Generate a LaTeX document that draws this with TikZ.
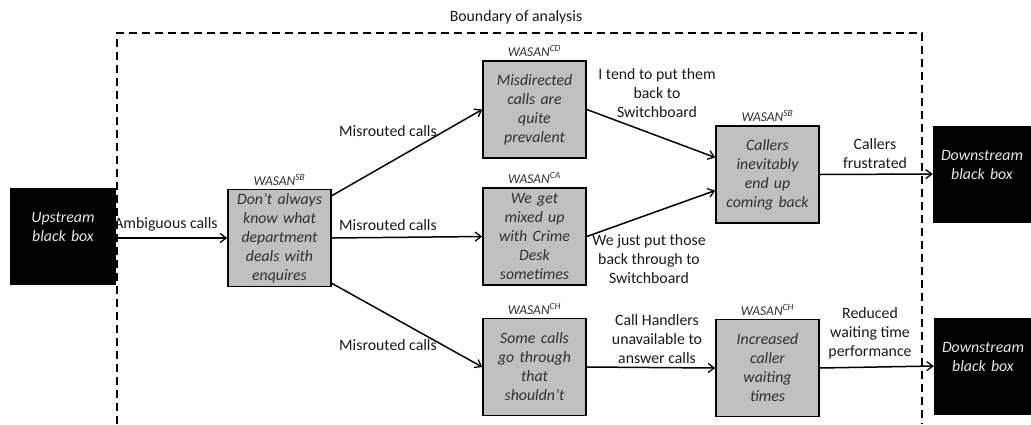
\documentclass[tikz,border=0pt]{standalone}
\usepackage{fontspec}
\setmainfont{Carlito}
\usetikzlibrary{arrows.meta}
\definecolor{boxgray}{HTML}{C0C0C0}
\definecolor{boxtext}{HTML}{303030}
\definecolor{bbtext}{HTML}{E8E8E8}
\begin{document}
\begin{tikzpicture}[x=1pt,y=1pt,
  every node/.style={font=\fontsize{15.8}{19}\selectfont},
  gbox/.style={draw=black, line width=1.6pt, fill=boxgray, minimum width=103pt, minimum height=97pt, text width=101pt, align=center, inner sep=0pt, text=boxtext, font=\fontsize{15.8}{19}\selectfont\itshape},
  bbox/.style={fill=black, minimum width=106pt, minimum height=97pt, text width=100pt, align=center, inner sep=0pt, text=bbtext, font=\fontsize{15.8}{19}\selectfont\itshape},
  wlabel/.style={font=\fontsize{13.5}{15}\selectfont\itshape, text=boxtext, inner sep=0pt},
  lab/.style={align=center, text=black!90, inner sep=0pt, font=\fontsize{15.8}{19}\selectfont},
  conn/.style={line width=1.5pt, -{Straight Barb[length=6pt,width=9pt,line width=1.3pt]}},
  boundary/.style={line width=1.5pt, dash pattern=on 8pt off 5pt}
]
\useasboundingbox (0,0) rectangle (1031,-424);
% boundary
\coordinate (bl) at (117,-424);
\coordinate (tl) at (117,-33);
\coordinate (tr) at (922,-33);
\coordinate (br) at (922,-424);
\draw[boundary] (bl) -- (tl) -- (tr) -- (br);
\node[lab] (btitle) at (516,-17) {Boundary of analysis};
% boxes
\node[bbox, minimum width=106pt] (up) at (63,-236.5) {Upstream\\black box\\\mbox{}};
\node[gbox] (b1) at (279.5,-238) {Don’t always\\know what\\department\\deals with\\enquires};
\node[gbox] (cd) at (534.5,-109.5) {Misdirected\\calls are\\quite\\prevalent};
\node[gbox] (ca) at (534.5,-236.5) {We get\\mixed up\\with Crime\\Desk\\sometimes};
\node[gbox] (ch) at (534.5,-367) {Some calls\\go through\\that\\shouldn’t};
\node[gbox] (sb2) at (767.5,-174.5) {Callers\\inevitably\\end up\\coming back};
\node[gbox] (ch2) at (767.5,-368) {Increased\\caller\\waiting\\times};
\node[bbox, minimum width=98pt, text width=94pt] (ds1) at (982,-174) {Downstream\\black box\\\mbox{}};
\node[bbox, minimum width=98pt, text width=94pt] (ds2) at (983,-366) {Downstream\\black box\\\mbox{}};
% WASAN labels
\node[wlabel, anchor=south] (w1) at ([yshift=3pt]b1.north) {WASAN\textsuperscript{SB}};
\node[wlabel, anchor=south] (w2) at ([yshift=3pt]cd.north) {WASAN\textsuperscript{CD}};
\node[wlabel, anchor=south] (w3) at ([yshift=3pt]ca.north) {WASAN\textsuperscript{CA}};
\node[wlabel, anchor=south] (w4) at ([yshift=3pt]ch.north) {WASAN\textsuperscript{CH}};
\node[wlabel, anchor=south] (w5) at ([yshift=3pt]sb2.north) {WASAN\textsuperscript{SB}};
\node[wlabel, anchor=south] (w6) at ([yshift=3pt]ch2.north) {WASAN\textsuperscript{CH}};
% connectors
\draw[conn] (up.east |- b1.west) -- (b1.west);
\draw[conn] ([yshift=-7pt]b1.north east) -- (cd.west);
\draw[conn] (b1.east) -- (ca.west);
\draw[conn] ([yshift=4pt]b1.south east) -- (ch.west);
\draw[conn] (cd.east) -- ([yshift=17pt]sb2.west);
\draw[conn] (ca.east) -- ([yshift=-16pt]sb2.west);
\draw[conn] (sb2.east) -- (ds1.west);
\draw[conn] (ch.east) -- (ch2.west);
\draw[conn] (ch2.east) -- (ds2.west);
% labels
\node[lab] (l0) at (166,-224) {Ambiguous calls};
\node[lab] (l1) at (388,-131) {Misrouted calls};
\node[lab] (l2) at (388,-225) {Misrouted calls};
\node[lab] (l3) at (388,-345) {Misrouted calls};
\node[lab] (l4) at (657,-93) {I tend to put them\\back to\\Switchboard};
\node[lab] (l5) at (649,-259) {We just put those\\back through to\\Switchboard};
\node[lab] (l6) at (875,-154) {Callers\\frustrated};
\node[lab] (l7) at (657,-339) {Call Handlers\\unavailable to\\answer calls};
\node[lab] (l8) at (870,-333) {Reduced\\waiting time\\performance};
\end{tikzpicture}
\end{document}
